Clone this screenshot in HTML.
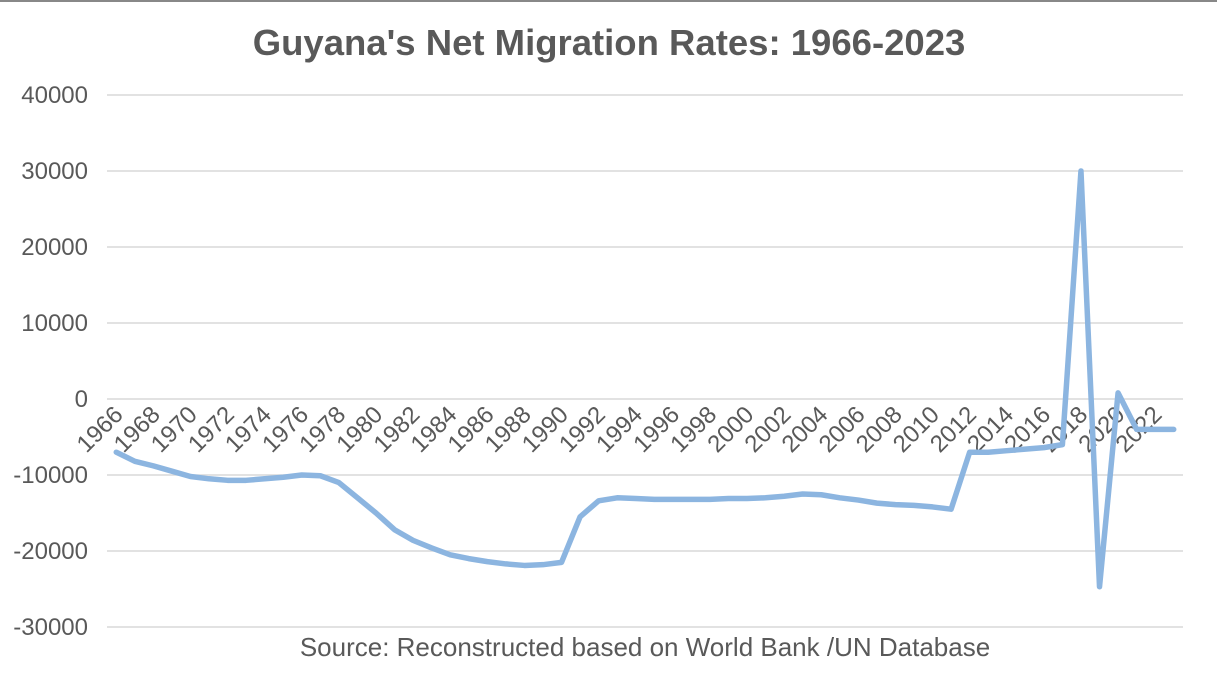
<!DOCTYPE html>
<html><head><meta charset="utf-8"><style>
body{margin:0;background:#fff;}
svg{display:block;font-family:"Liberation Sans",Arial,sans-serif;}
</style></head><body>
<svg id="c" width="1217" height="695">
<rect x="0" y="0" width="1217" height="695" fill="#fff"/>
<line x1="0" y1="1" x2="1217" y2="1" stroke="#888" stroke-width="2"/>
<text x="609" y="55" text-anchor="middle" font-size="36.5" font-weight="bold" fill="#595959">Guyana's Net Migration Rates: 1966-2023</text>
<text x="645" y="656" text-anchor="middle" font-size="26" fill="#595959">Source: Reconstructed based on World Bank /UN Database</text>
<g id="grid"></g><g id="ylab"></g><g id="xlab"></g><g id="series"></g>
</svg>
<script>
const years=[];for(let y=1966;y<=2023;y++)years.push(y);
const values=[-7000,-8200,-8800,-9500,-10200,-10500,-10700,-10700,-10500,-10300,-10000,-10100,-11000,-13000,-15000,-17200,-18600,-19600,-20500,-21000,-21400,-21700,-21900,-21800,-21500,-15500,-13400,-13000,-13100,-13200,-13200,-13200,-13200,-13100,-13100,-13000,-12800,-12500,-12600,-13000,-13300,-13700,-13900,-14000,-14200,-14500,-7000,-7000,-6800,-6600,-6400,-6000,30000,-24700,800,-4000,-4000,-4000];
const yTicks=[40000,30000,20000,10000,0,-10000,-20000,-30000];
const NS='http://www.w3.org/2000/svg';
const pLeft=107,pRight=1183,pTop=95,pBottom=627,ymin=-30000,ymax=40000;
const band=(pRight-pLeft)/years.length;
function xs(i){return pLeft+band*(i+0.5);}
function ys(v){return pTop+(ymax-v)/(ymax-ymin)*(pBottom-pTop);}
function mk(t,a,p){const e=document.createElementNS(NS,t);for(const k in a)e.setAttribute(k,a[k]);p.appendChild(e);return e;}
const g=document.getElementById('grid'),yl=document.getElementById('ylab'),xl=document.getElementById('xlab'),s=document.getElementById('series');
yTicks.forEach(t=>{
 const l=mk('line',{x1:pLeft,x2:pRight,y1:ys(t),y2:ys(t),stroke:'#d9d9d9','stroke-width':1.5},g);
 
 
 const tx=mk('text',{x:88,y:ys(t)+8,'text-anchor':'end','font-size':24,fill:'#595959'},yl);
 tx.textContent=t;
 
 
});
years.forEach((y,i)=>{
 if(i%2)return;
 const x=xs(i)+8,yy=ys(0)+17;
 const tx=mk('text',{x:x,y:yy,'text-anchor':'end','font-size':24,fill:'#595959',transform:`rotate(-45 ${x} ${yy})`},xl);
 tx.textContent=y;
 
 
});
const p=mk('polyline',{points:values.map((v,i)=>xs(i)+','+ys(v)).join(' '),fill:'none',stroke:'#8cb5e0','stroke-width':5.5,'stroke-linejoin':'round','stroke-linecap':'round'},s);


</script>
</body></html>
